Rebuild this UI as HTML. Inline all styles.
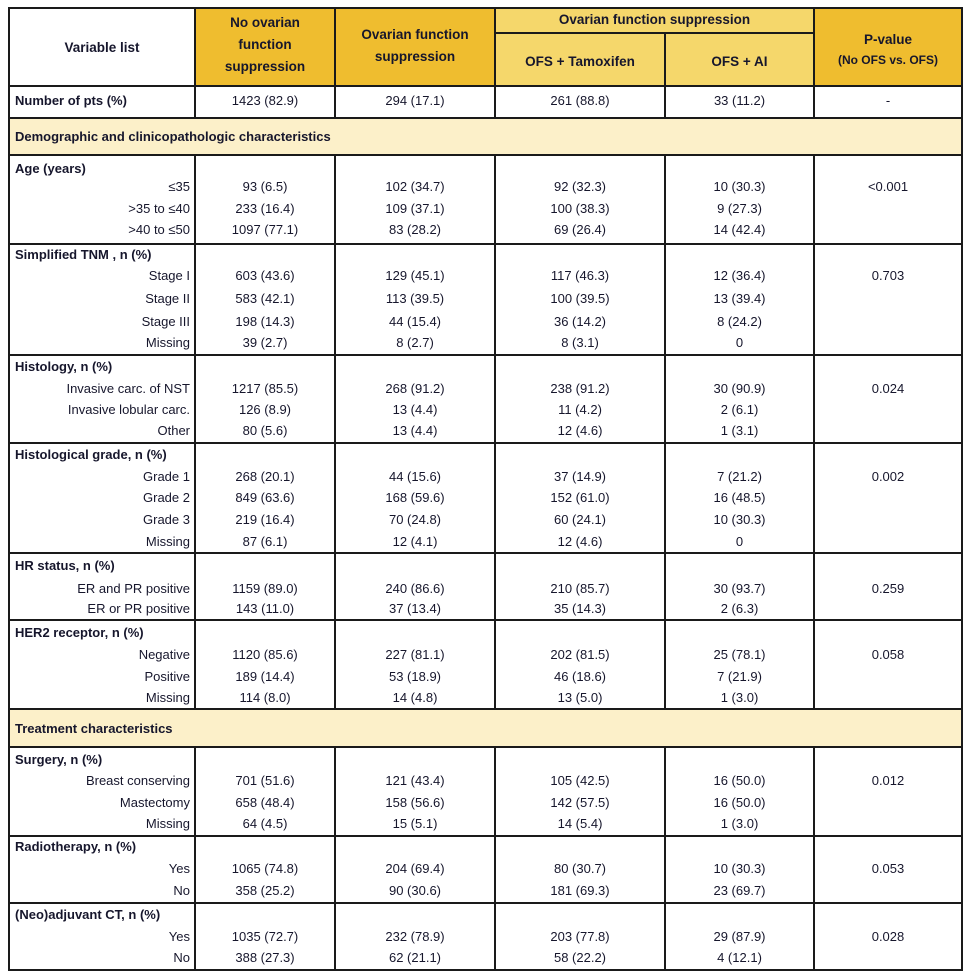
<!DOCTYPE html>
<html><head><meta charset="utf-8"><style>
body{margin:0;width:966px;height:980px;background:#fff;position:relative;overflow:hidden;font-family:"Liberation Sans",Arial,sans-serif;font-size:13px;color:#16162c}
div{position:absolute}
.h{background:#1a1a1a}
.l{left:15px;font-weight:bold;white-space:nowrap;line-height:16px}
.r{left:20px;width:170px;text-align:right;white-space:nowrap;line-height:16px}
.c{text-align:center;white-space:nowrap;line-height:16px}
.c1{left:195px;width:140px}.c2{left:335px;width:160px}.c3{left:495px;width:170px}.c4{left:665px;width:149px}.c5{left:814px;width:148px}
.b{font-weight:bold}
</style></head><body>
<div style="left:195px;top:8px;width:300px;height:78px;background:#efbd2f"></div>
<div style="left:814px;top:8px;width:148px;height:78px;background:#efbd2f"></div>
<div style="left:495px;top:8px;width:319px;height:78px;background:#f5d76b"></div>
<div style="left:9px;top:118px;width:953px;height:37px;background:#fcf0c9"></div>
<div style="left:9px;top:709px;width:953px;height:38px;background:#fcf0c9"></div>
<div class="h" style="left:9px;top:7px;width:954px;height:2px"></div>
<div class="h" style="left:495px;top:32px;width:319px;height:2px"></div>
<div class="h" style="left:9px;top:85px;width:954px;height:2px"></div>
<div class="h" style="left:9px;top:117px;width:954px;height:2px"></div>
<div class="h" style="left:9px;top:154px;width:954px;height:2px"></div>
<div class="h" style="left:9px;top:243px;width:954px;height:2px"></div>
<div class="h" style="left:9px;top:354px;width:954px;height:2px"></div>
<div class="h" style="left:9px;top:442px;width:954px;height:2px"></div>
<div class="h" style="left:9px;top:552px;width:954px;height:2px"></div>
<div class="h" style="left:9px;top:619px;width:954px;height:2px"></div>
<div class="h" style="left:9px;top:708px;width:954px;height:2px"></div>
<div class="h" style="left:9px;top:746px;width:954px;height:2px"></div>
<div class="h" style="left:9px;top:835px;width:954px;height:2px"></div>
<div class="h" style="left:9px;top:902px;width:954px;height:2px"></div>
<div class="h" style="left:9px;top:969px;width:954px;height:2px"></div>
<div class="h" style="left:8px;top:7px;width:2px;height:964px"></div>
<div class="h" style="left:961px;top:7px;width:2px;height:964px"></div>
<div class="h" style="left:194px;top:7px;width:2px;height:111px"></div>
<div class="h" style="left:334px;top:7px;width:2px;height:111px"></div>
<div class="h" style="left:494px;top:7px;width:2px;height:111px"></div>
<div class="h" style="left:664px;top:33px;width:2px;height:85px"></div>
<div class="h" style="left:813px;top:7px;width:2px;height:111px"></div>
<div class="h" style="left:194px;top:155px;width:2px;height:554px"></div>
<div class="h" style="left:334px;top:155px;width:2px;height:554px"></div>
<div class="h" style="left:494px;top:155px;width:2px;height:554px"></div>
<div class="h" style="left:664px;top:155px;width:2px;height:554px"></div>
<div class="h" style="left:813px;top:155px;width:2px;height:554px"></div>
<div class="h" style="left:194px;top:747px;width:2px;height:223px"></div>
<div class="h" style="left:334px;top:747px;width:2px;height:223px"></div>
<div class="h" style="left:494px;top:747px;width:2px;height:223px"></div>
<div class="h" style="left:664px;top:747px;width:2px;height:223px"></div>
<div class="h" style="left:813px;top:747px;width:2px;height:223px"></div>
<div class="c b" style="left:9px;width:186px;top:40px;font-size:13.5px">Variable list</div>
<div class="c b c1" style="top:12px;font-size:13.5px;line-height:22px;white-space:normal">No ovarian<br>function<br>suppression</div>
<div class="c b c2" style="top:24px;font-size:13.5px;line-height:22px">Ovarian function<br>suppression</div>
<div class="b" style="left:495px;width:319px;top:12px;text-align:center;font-size:13.5px">Ovarian function suppression</div>
<div class="c b c3" style="top:54px;font-size:13.5px">OFS + Tamoxifen</div>
<div class="c b c4" style="top:54px;font-size:13.5px">OFS + AI</div>
<div class="c b c5" style="top:30px;font-size:13.5px;line-height:20px">P-value<br><span style="font-size:12px">(No OFS vs. OFS)</span></div>
<div class="l" style="top:93px">Number of pts (%)</div>
<div class="c c1" style="top:93px">1423 (82.9)</div><div class="c c2" style="top:93px">294 (17.1)</div><div class="c c3" style="top:93px">261 (88.8)</div><div class="c c4" style="top:93px">33 (11.2)</div><div class="c c5" style="top:93px">-</div>
<div class="l" style="top:129px">Demographic and clinicopathologic characteristics</div>
<div class="l" style="top:161px">Age (years)</div>
<div class="r" style="top:179px">≤35</div><div class="c c1" style="top:179px">93 (6.5)</div><div class="c c2" style="top:179px">102 (34.7)</div><div class="c c3" style="top:179px">92 (32.3)</div><div class="c c4" style="top:179px">10 (30.3)</div><div class="c c5" style="top:179px">&lt;0.001</div>
<div class="r" style="top:201px">&gt;35 to ≤40</div><div class="c c1" style="top:201px">233 (16.4)</div><div class="c c2" style="top:201px">109 (37.1)</div><div class="c c3" style="top:201px">100 (38.3)</div><div class="c c4" style="top:201px">9 (27.3)</div>
<div class="r" style="top:222px">&gt;40 to ≤50</div><div class="c c1" style="top:222px">1097 (77.1)</div><div class="c c2" style="top:222px">83 (28.2)</div><div class="c c3" style="top:222px">69 (26.4)</div><div class="c c4" style="top:222px">14 (42.4)</div>
<div class="l" style="top:247px">Simplified TNM , n (%)</div>
<div class="r" style="top:268px">Stage I</div><div class="c c1" style="top:268px">603 (43.6)</div><div class="c c2" style="top:268px">129 (45.1)</div><div class="c c3" style="top:268px">117 (46.3)</div><div class="c c4" style="top:268px">12 (36.4)</div><div class="c c5" style="top:268px">0.703</div>
<div class="r" style="top:291px">Stage II</div><div class="c c1" style="top:291px">583 (42.1)</div><div class="c c2" style="top:291px">113 (39.5)</div><div class="c c3" style="top:291px">100 (39.5)</div><div class="c c4" style="top:291px">13 (39.4)</div>
<div class="r" style="top:314px">Stage III</div><div class="c c1" style="top:314px">198 (14.3)</div><div class="c c2" style="top:314px">44 (15.4)</div><div class="c c3" style="top:314px">36 (14.2)</div><div class="c c4" style="top:314px">8 (24.2)</div>
<div class="r" style="top:335px">Missing</div><div class="c c1" style="top:335px">39 (2.7)</div><div class="c c2" style="top:335px">8 (2.7)</div><div class="c c3" style="top:335px">8 (3.1)</div><div class="c c4" style="top:335px">0</div>
<div class="l" style="top:359px">Histology, n (%)</div>
<div class="r" style="top:381px">Invasive carc. of NST</div><div class="c c1" style="top:381px">1217 (85.5)</div><div class="c c2" style="top:381px">268 (91.2)</div><div class="c c3" style="top:381px">238 (91.2)</div><div class="c c4" style="top:381px">30 (90.9)</div><div class="c c5" style="top:381px">0.024</div>
<div class="r" style="top:402px">Invasive lobular carc.</div><div class="c c1" style="top:402px">126 (8.9)</div><div class="c c2" style="top:402px">13 (4.4)</div><div class="c c3" style="top:402px">11 (4.2)</div><div class="c c4" style="top:402px">2 (6.1)</div>
<div class="r" style="top:423px">Other</div><div class="c c1" style="top:423px">80 (5.6)</div><div class="c c2" style="top:423px">13 (4.4)</div><div class="c c3" style="top:423px">12 (4.6)</div><div class="c c4" style="top:423px">1 (3.1)</div>
<div class="l" style="top:447px">Histological grade, n (%)</div>
<div class="r" style="top:469px">Grade 1</div><div class="c c1" style="top:469px">268 (20.1)</div><div class="c c2" style="top:469px">44 (15.6)</div><div class="c c3" style="top:469px">37 (14.9)</div><div class="c c4" style="top:469px">7 (21.2)</div><div class="c c5" style="top:469px">0.002</div>
<div class="r" style="top:490px">Grade 2</div><div class="c c1" style="top:490px">849 (63.6)</div><div class="c c2" style="top:490px">168 (59.6)</div><div class="c c3" style="top:490px">152 (61.0)</div><div class="c c4" style="top:490px">16 (48.5)</div>
<div class="r" style="top:512px">Grade 3</div><div class="c c1" style="top:512px">219 (16.4)</div><div class="c c2" style="top:512px">70 (24.8)</div><div class="c c3" style="top:512px">60 (24.1)</div><div class="c c4" style="top:512px">10 (30.3)</div>
<div class="r" style="top:534px">Missing</div><div class="c c1" style="top:534px">87 (6.1)</div><div class="c c2" style="top:534px">12 (4.1)</div><div class="c c3" style="top:534px">12 (4.6)</div><div class="c c4" style="top:534px">0</div>
<div class="l" style="top:558px">HR status, n (%)</div>
<div class="r" style="top:581px">ER and PR positive</div><div class="c c1" style="top:581px">1159 (89.0)</div><div class="c c2" style="top:581px">240 (86.6)</div><div class="c c3" style="top:581px">210 (85.7)</div><div class="c c4" style="top:581px">30 (93.7)</div><div class="c c5" style="top:581px">0.259</div>
<div class="r" style="top:601px">ER or PR positive</div><div class="c c1" style="top:601px">143 (11.0)</div><div class="c c2" style="top:601px">37 (13.4)</div><div class="c c3" style="top:601px">35 (14.3)</div><div class="c c4" style="top:601px">2 (6.3)</div>
<div class="l" style="top:625px">HER2 receptor, n (%)</div>
<div class="r" style="top:647px">Negative</div><div class="c c1" style="top:647px">1120 (85.6)</div><div class="c c2" style="top:647px">227 (81.1)</div><div class="c c3" style="top:647px">202 (81.5)</div><div class="c c4" style="top:647px">25 (78.1)</div><div class="c c5" style="top:647px">0.058</div>
<div class="r" style="top:669px">Positive</div><div class="c c1" style="top:669px">189 (14.4)</div><div class="c c2" style="top:669px">53 (18.9)</div><div class="c c3" style="top:669px">46 (18.6)</div><div class="c c4" style="top:669px">7 (21.9)</div>
<div class="r" style="top:690px">Missing</div><div class="c c1" style="top:690px">114 (8.0)</div><div class="c c2" style="top:690px">14 (4.8)</div><div class="c c3" style="top:690px">13 (5.0)</div><div class="c c4" style="top:690px">1 (3.0)</div>
<div class="l" style="top:721px">Treatment characteristics</div>
<div class="l" style="top:752px">Surgery, n (%)</div>
<div class="r" style="top:773px">Breast conserving</div><div class="c c1" style="top:773px">701 (51.6)</div><div class="c c2" style="top:773px">121 (43.4)</div><div class="c c3" style="top:773px">105 (42.5)</div><div class="c c4" style="top:773px">16 (50.0)</div><div class="c c5" style="top:773px">0.012</div>
<div class="r" style="top:795px">Mastectomy</div><div class="c c1" style="top:795px">658 (48.4)</div><div class="c c2" style="top:795px">158 (56.6)</div><div class="c c3" style="top:795px">142 (57.5)</div><div class="c c4" style="top:795px">16 (50.0)</div>
<div class="r" style="top:816px">Missing</div><div class="c c1" style="top:816px">64 (4.5)</div><div class="c c2" style="top:816px">15 (5.1)</div><div class="c c3" style="top:816px">14 (5.4)</div><div class="c c4" style="top:816px">1 (3.0)</div>
<div class="l" style="top:839px">Radiotherapy, n (%)</div>
<div class="r" style="top:861px">Yes</div><div class="c c1" style="top:861px">1065 (74.8)</div><div class="c c2" style="top:861px">204 (69.4)</div><div class="c c3" style="top:861px">80 (30.7)</div><div class="c c4" style="top:861px">10 (30.3)</div><div class="c c5" style="top:861px">0.053</div>
<div class="r" style="top:883px">No</div><div class="c c1" style="top:883px">358 (25.2)</div><div class="c c2" style="top:883px">90 (30.6)</div><div class="c c3" style="top:883px">181 (69.3)</div><div class="c c4" style="top:883px">23 (69.7)</div>
<div class="l" style="top:907px">(Neo)adjuvant CT, n (%)</div>
<div class="r" style="top:929px">Yes</div><div class="c c1" style="top:929px">1035 (72.7)</div><div class="c c2" style="top:929px">232 (78.9)</div><div class="c c3" style="top:929px">203 (77.8)</div><div class="c c4" style="top:929px">29 (87.9)</div><div class="c c5" style="top:929px">0.028</div>
<div class="r" style="top:950px">No</div><div class="c c1" style="top:950px">388 (27.3)</div><div class="c c2" style="top:950px">62 (21.1)</div><div class="c c3" style="top:950px">58 (22.2)</div><div class="c c4" style="top:950px">4 (12.1)</div>
</body></html>
